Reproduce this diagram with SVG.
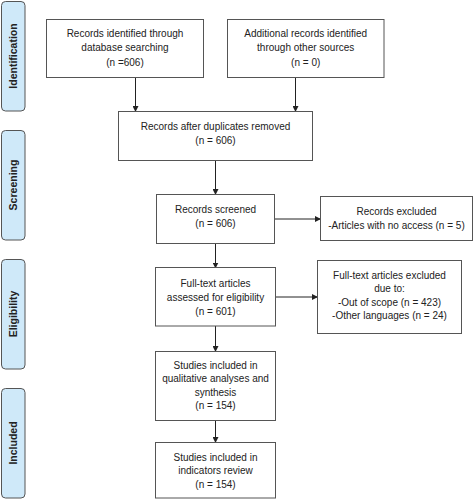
<svg xmlns="http://www.w3.org/2000/svg" width="474" height="500" viewBox="0 0 474 500">
<style>
.box{fill:#fff;stroke:#555;stroke-width:1}
.side{fill:#cfe9f9;stroke:#555;stroke-width:1}
.t{font-family:"Liberation Sans",Arial,sans-serif;font-size:10px;fill:#222;text-anchor:middle}
.s{font-family:"Liberation Sans",Arial,sans-serif;font-size:10.5px;font-weight:bold;fill:#222;text-anchor:middle}
.c{stroke:#222;stroke-width:1;fill:none;marker-end:url(#ah)}
</style>
<defs>
<marker id="ah" markerWidth="6" markerHeight="6" refX="5" refY="3" orient="auto" markerUnits="userSpaceOnUse">
<path d="M0,0 L6,3 L0,6 Z" fill="#222"/>
</marker>
</defs>
<rect width="474" height="500" fill="#fff"/>
<g id="side-identification"><rect class="side" x="1.5" y="1.5" width="23.5" height="109.5" rx="4"/><text class="s" transform="translate(17,56) rotate(-90)">Identification</text></g>
<g id="side-screening"><rect class="side" x="1.5" y="130.5" width="23.5" height="109.5" rx="4"/><text class="s" transform="translate(17,185) rotate(-90)">Screening</text></g>
<g id="side-eligibility"><rect class="side" x="1.5" y="259.5" width="23.5" height="109.5" rx="4"/><text class="s" transform="translate(17,314) rotate(-90)">Eligibility</text></g>
<g id="side-included"><rect class="side" x="1.5" y="388.5" width="23.5" height="109.5" rx="4"/><text class="s" transform="translate(17,443) rotate(-90)">Included</text></g>

<g id="connectors">
<line class="c" x1="135.5" y1="77.5" x2="135.5" y2="111"/>
<line class="c" x1="295.5" y1="77.5" x2="295.5" y2="111"/>
<line class="c" x1="215.5" y1="160.5" x2="215.5" y2="194"/>
<line class="c" x1="274.5" y1="219" x2="320" y2="219"/>
<line class="c" x1="215.5" y1="243.5" x2="215.5" y2="267.5"/>
<line class="c" x1="275.5" y1="297" x2="317" y2="297"/>
<line class="c" x1="215.5" y1="326" x2="215.5" y2="351"/>
<line class="c" x1="215.5" y1="420.5" x2="215.5" y2="442"/>
</g>

<g id="n-database"><rect class="box" x="46.5" y="19.5" width="157" height="58"/>
<text class="t" x="125" y="37">Records identified through</text><text class="t" x="125" y="51.3">database searching</text><text class="t" x="125" y="65.6">(n =606)</text></g>
<g id="n-other"><rect class="box" x="227.5" y="19.5" width="156.5" height="58"/>
<text class="t" x="305.7" y="37">Additional records identified</text><text class="t" x="305.7" y="51.3">through other sources</text><text class="t" x="305.7" y="65.6">(n = 0)</text></g>
<g id="n-duplicates"><rect class="box" x="118.5" y="111.5" width="194" height="49"/>
<text class="t" x="215.5" y="129.7">Records after duplicates removed</text><text class="t" x="215.5" y="144">(n = 606)</text></g>
<g id="n-screened"><rect class="box" x="156.5" y="194.5" width="118" height="49"/>
<text class="t" x="215.5" y="212.5">Records screened</text><text class="t" x="215.5" y="227">(n = 606)</text></g>
<g id="n-excluded"><rect class="box" x="320.5" y="196.5" width="152" height="44"/>
<text class="t" x="396.5" y="214.8">Records excluded</text><text class="t" x="396.5" y="229">-Articles with no access (n = 5)</text></g>
<g id="n-fulltext"><rect class="box" x="155.5" y="267.5" width="120" height="58.5"/>
<text class="t" x="215.5" y="286.5">Full-text articles</text><text class="t" x="215.5" y="300.5">assessed for eligibility</text><text class="t" x="215.5" y="314.5">(n = 601)</text></g>
<g id="n-ftexcluded"><rect class="box" x="317.5" y="260.5" width="144" height="73"/>
<text class="t" x="389.5" y="278.5">Full-text articles excluded</text><text class="t" x="389.5" y="292.2">due to:</text><text class="t" x="389.5" y="305.5">-Out of scope (n = 423)</text><text class="t" x="389.5" y="319">-Other languages (n = 24)</text></g>
<g id="n-qualitative"><rect class="box" x="155.5" y="351.5" width="120" height="69"/>
<text class="t" x="215.5" y="368.8">Studies included in</text><text class="t" x="215.5" y="382.3">qualitative analyses and</text><text class="t" x="215.5" y="395.8">synthesis</text><text class="t" x="215.5" y="409.3">(n = 154)</text></g>
<g id="n-indicators"><rect class="box" x="155.5" y="442.5" width="120" height="55.5"/>
<text class="t" x="215.5" y="460.5">Studies included in</text><text class="t" x="215.5" y="474">indicators review</text><text class="t" x="215.5" y="487.5">(n = 154)</text></g>
</svg>
